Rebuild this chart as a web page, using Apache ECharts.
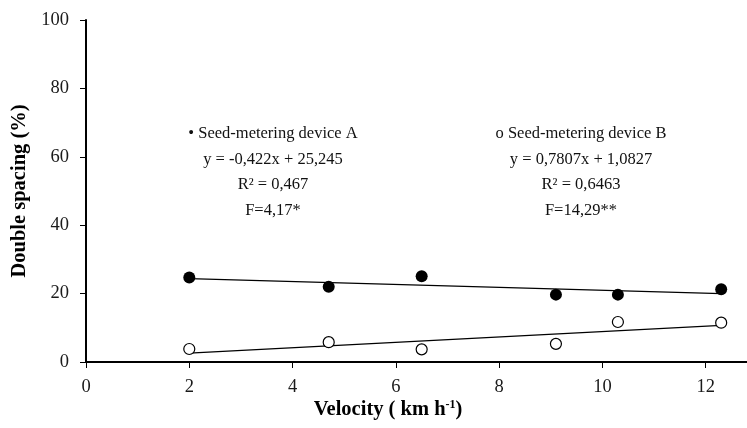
<!DOCTYPE html>
<html lang="en">
<head>
    <meta charset="UTF-8">
    <title>Double spacing</title>
    <script src="https://cdn.jsdelivr.net/npm/echarts@6/dist/echarts.min.js"></script>
</head>
<body style="margin:0;">
<div id="main" style="width:747px;height:428px;"></div>
<script type="text/javascript">
    // data
    var velocity = [2, 4.7, 6.5, 9.1, 10.3, 12.3];
    var deviceA = [24.7, 22.0, 25.1, 19.7, 19.7, 21.3];
    var deviceB = [3.8, 5.8, 3.7, 5.3, 11.7, 11.5];
    var trendX = [2, 12.3];
    var trendA = [24.4, 20.0];
    var trendB = [2.6, 10.7];
    var xTicks = [0, 2, 4, 6, 8, 10, 12];

    function pairs(xs, ys) {
        return xs.map(function (x, i) { return [x, ys[i]]; });
    }

    var font = 'Liberation Serif';
    var myChart = echarts.init(document.getElementById('main'));

    option = {
        animation: false,
        textStyle: {fontFamily: font},
        grid: {left: 86, top: 20, right: 0, bottom: 66},
        xAxis: {
            type: 'value',
            min: 0,
            max: 12.8,
            splitLine: {show: false},
            axisLine: {lineStyle: {color: '#000', width: 2}},
            axisTick: {customValues: xTicks, length: 6, lineStyle: {color: '#000', width: 1}},
            axisLabel: {customValues: xTicks, margin: 16, fontSize: 18.5, color: '#1a1a1a', fontFamily: font}
        },
        yAxis: {
            type: 'value',
            min: 0,
            max: 100,
            interval: 20,
            name: 'Double spacing (%)',
            nameLocation: 'middle',
            nameGap: 54,
            nameTextStyle: {fontSize: 20.5, fontWeight: 'bold', color: '#000', fontFamily: font},
            splitLine: {show: false},
            axisLine: {show: true, lineStyle: {color: '#000', width: 2}},
            axisTick: {show: true, length: 6, lineStyle: {color: '#000', width: 1}},
            axisLabel: {margin: 17, fontSize: 18.5, color: '#1a1a1a', fontFamily: font}
        },
        graphic: [
            {
                type: 'text',
                x: 388, y: 399,
                style: {
                    text: '{b|Velocity ( km h}{s|-1}{b|)}',
                    align: 'center',
                    rich: {
                        b: {fontSize: 20.5, fontWeight: 'bold', fontFamily: font, fill: '#000', lineHeight: 22},
                        s: {fontSize: 12, fontWeight: 'bold', fontFamily: font, fill: '#000', verticalAlign: 'top', lineHeight: 13}
                    }
                }
            },
            {
                type: 'text',
                x: 273, y: 121,
                style: {
                    text: '\u2022 Seed-metering device A\ny = -0,422x + 25,245\nR\u00b2 = 0,467\nF=4,17*',
                    align: 'center',
                    lineHeight: 25.5,
                    fontSize: 16.5,
                    fontFamily: font,
                    fill: '#111'
                }
            },
            {
                type: 'text',
                x: 581, y: 121,
                style: {
                    text: 'o Seed-metering device B\ny = 0,7807x + 1,0827\nR\u00b2 = 0,6463\nF=14,29**',
                    align: 'center',
                    lineHeight: 25.5,
                    fontSize: 16.5,
                    fontFamily: font,
                    fill: '#111'
                }
            }
        ],
        series: [
            {
                name: 'Trend A',
                type: 'line',
                data: pairs(trendX, trendA),
                symbol: 'none',
                lineStyle: {color: '#000', width: 1.3},
                z: 1
            },
            {
                name: 'Trend B',
                type: 'line',
                data: pairs(trendX, trendB),
                symbol: 'none',
                lineStyle: {color: '#000', width: 1.3},
                z: 1
            },
            {
                name: 'Seed-metering device A',
                type: 'scatter',
                data: pairs(velocity, deviceA),
                symbolSize: 12,
                itemStyle: {color: '#000', opacity: 1},
                z: 3
            },
            {
                name: 'Seed-metering device B',
                type: 'scatter',
                data: pairs(velocity, deviceB),
                symbolSize: 11,
                itemStyle: {color: '#fff', borderColor: '#000', borderWidth: 1.2, opacity: 1},
                z: 3
            }
        ]
    };

    myChart.setOption(option);
</script>
</body>
</html>
